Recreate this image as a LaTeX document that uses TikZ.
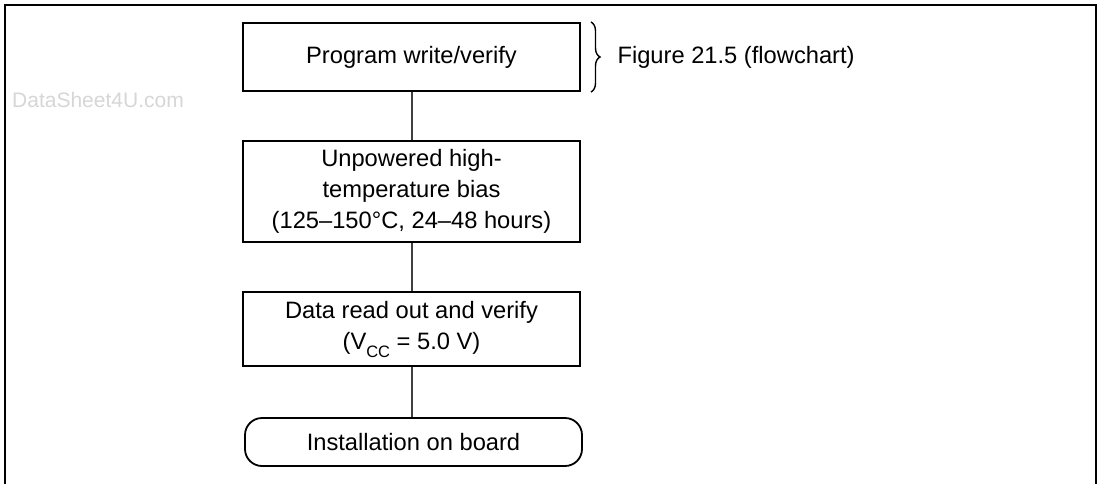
\documentclass[tikz,border=0pt]{standalone}
\usepackage{fontspec}
\setmainfont{Liberation Sans}
\usetikzlibrary{decorations.pathreplacing}
\begin{document}
\begin{tikzpicture}[x=1pt,y=-1pt,
  every node/.style={font=\fontsize{23.7}{31}\selectfont},
  stepbox/.style={draw=black,line width=1.8pt,inner sep=0pt,align=center,minimum width=337pt},
  endbox/.style={stepbox,rounded corners=17pt},
  link/.style={draw=black!75,line width=2pt}]
\useasboundingbox (0,0) rectangle (1100,483);
\draw[line width=1.8pt] (5,490) -- (5,5) -- (1096,5) -- (1096,490);
\node[anchor=west,inner sep=0pt,text=black!16,font=\fontsize{21}{24}\selectfont] (wm) at (12,100) {DataSheet4U.com};
\node[stepbox,minimum height=68pt] (b1) at (411.5,57) {Program write/verify};
\node[stepbox,minimum height=101pt] (b2) at (411.5,191.5) {Unpowered high-\\temperature bias\\(125–150°C, 24–48 hours)};
\node[stepbox,minimum height=74pt] (b3) at (411.5,329) {Data read out and verify\\(V\raisebox{-8pt}{\fontsize{16.5}{18}\selectfont CC} = 5.0 V)};
\node[endbox,minimum height=48pt] (b4) at (413.5,442) {Installation on board};
\coordinate (bt) at (591,22);
\coordinate (bb) at (591,92);
\draw[line width=1.4pt,decorate,decoration={brace,amplitude=9pt}] (bt) -- (bb);
\node[anchor=west] (fig) at (614,57) {Figure 21.5 (flowchart)};
\draw[link] (b1) -- (b2);
\draw[link] (b2) -- (b3);
\draw[link] (b3.south) -- (b3.south |- b4.north);
\end{tikzpicture}
\end{document}
